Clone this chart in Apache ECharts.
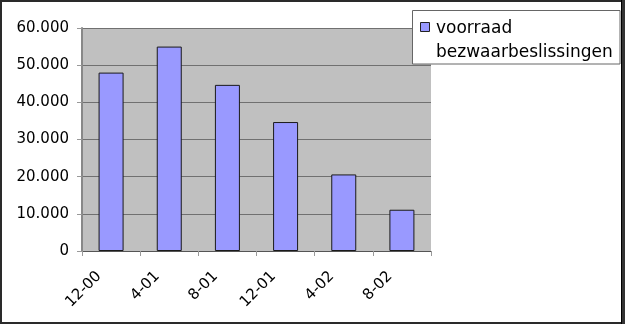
<!DOCTYPE html>
<html>
<head>
<meta charset="utf-8">
<script src="https://cdn.jsdelivr.net/npm/echarts@6/dist/echarts.min.js"></script>
<style>
html,body{margin:0;padding:0;background:#fff;}
#c{width:625px;height:324px;}
</style>
</head>
<body>
<div id="c"></div>
<script>
var categories = ['12-00', '4-01', '8-01', '12-01', '4-02', '8-02'];
var values = [48000, 55000, 44700, 34700, 20600, 11100];
var yTicks = [0, 10000, 20000, 30000, 40000, 50000, 60000];
var seriesName = 'voorraad bezwaarbeslissingen';

function fmt(v) {
  if (v === 0) return '0';
  var s = String(Math.round(v));
  var out = '';
  while (s.length > 3) { out = '.' + s.slice(-3) + out; s = s.slice(0, -3); }
  return s + out;
}

var chart = echarts.init(document.getElementById('c'), null, {renderer: 'canvas'});
var FONT = 'DejaVu Sans';
chart.setOption({
  animation: false,
  backgroundColor: '#ffffff',
  textStyle: {fontFamily: FONT},
  grid: {left: 82, right: 194, top: 28, bottom: 73, show: true, backgroundColor: '#c0c0c0', borderWidth: 0},
  xAxis: {
    type: 'category',
    data: categories,
    boundaryGap: true,
    axisLine: {lineStyle: {color: '#555555', width: 1}},
    axisTick: {show: true, length: 5, lineStyle: {color: '#999999'}},
    axisLabel: {rotate: 45, fontSize: 15, color: '#000', fontFamily: FONT, margin: 11, padding: [0, 17, 0, 0], interval: 0}
  },
  yAxis: {
    type: 'value',
    min: yTicks[0],
    max: yTicks[yTicks.length - 1],
    interval: yTicks[1] - yTicks[0],
    axisLine: {show: true, lineStyle: {color: '#888888', width: 2}},
    axisTick: {show: true, length: 5, lineStyle: {color: '#999999'}},
    axisLabel: {fontSize: 15, color: '#000', fontFamily: FONT, margin: 13, formatter: fmt},
    splitLine: {show: true, lineStyle: {color: '#707070', width: 1}}
  },
  series: [{
    name: seriesName,
    type: 'bar',
    data: values,
    barWidth: 25,
    itemStyle: {color: '#9999ff', borderColor: '#1a1a1a', borderWidth: 1}
  }],
  graphic: [
    {type: 'rect', shape: {x: 412.5, y: 10.5, width: 207.5, height: 53.5}, style: {fill: '#ffffff', stroke: '#666666', lineWidth: 1}, z: 10},
    {type: 'rect', shape: {x: 420.5, y: 22.5, width: 9, height: 9}, style: {fill: '#9999ff', stroke: '#222222', lineWidth: 1}, z: 11},
    {type: 'text', x: 436, y: 17, style: {text: seriesName.replace(' ', '\n'), fill: '#000', font: '17px "DejaVu Sans"', lineHeight: 24, verticalAlign: 'top'}, z: 11},
    {type: 'rect', shape: {x: 1, y: 1, width: 621, height: 322}, style: {fill: 'none', stroke: '#2a2a2a', lineWidth: 2}, z: 20},
    {type: 'rect', shape: {x: 621, y: 0, width: 1, height: 324}, style: {fill: '#000000'}, z: 21},
    {type: 'rect', shape: {x: 622, y: 0, width: 3, height: 324}, style: {fill: '#333333'}, z: 21}
  ]
});
</script>
</body>
</html>
